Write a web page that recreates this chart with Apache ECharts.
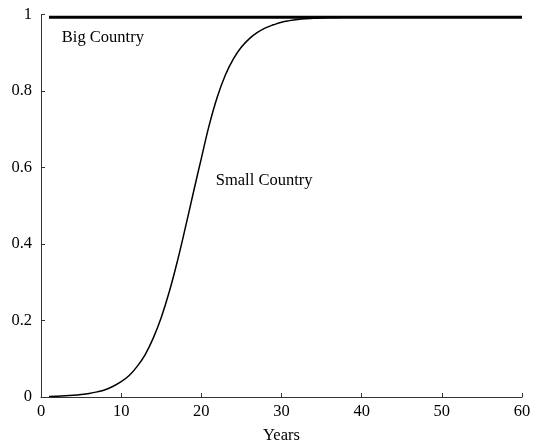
<!DOCTYPE html>
<html><head><meta charset="utf-8">
<script src="https://cdn.jsdelivr.net/npm/echarts@6/dist/echarts.min.js"></script>
<style>html,body{margin:0;padding:0;background:#fff}#c{width:534px;height:445px}</style>
</head><body><div id="c"></div>
<script>
var years = [1,2,3,4,5,6,7,8,9,10,11,12,13,14,15,16,17,18,19,20,21,22,23,24,25,26,27,28,29,30,31,32,33,34,35,36,37,38,39,40,41,42,43,44,45,46,47,48,49,50,51,52,53,54,55,56,57,58,59,60];
var smallCountry = [0.0015,0.0021,0.0031,0.0045,0.0065,0.0093,0.0134,0.019,0.028,0.040,0.056,0.080,0.111,0.154,0.208,0.275,0.354,0.442,0.534,0.624,0.712,0.785,0.842,0.884,0.915,0.937,0.953,0.965,0.973,0.980,0.984,0.987,0.989,0.990,0.991,0.992,0.992,0.993,0.993,0.993,0.993,0.993,0.993,0.993,0.993,0.993,0.993,0.993,0.993,0.993,0.993,0.993,0.993,0.993,0.993,0.993,0.993,0.993,0.993,0.993];
var bigCountry = [0.993,0.993,0.993,0.993,0.993,0.993,0.993,0.993,0.993,0.993,0.993,0.993,0.993,0.993,0.993,0.993,0.993,0.993,0.993,0.993,0.993,0.993,0.993,0.993,0.993,0.993,0.993,0.993,0.993,0.993,0.993,0.993,0.993,0.993,0.993,0.993,0.993,0.993,0.993,0.993,0.993,0.993,0.993,0.993,0.993,0.993,0.993,0.993,0.993,0.993,0.993,0.993,0.993,0.993,0.993,0.993,0.993,0.993,0.993,0.993];
var xTitle = "Years";
var labelBig = {text:"Big Country", x:2.6, y:0.94};
var labelSmall = {text:"Small Country", x:21.8, y:0.565};

var font = "'Liberation Serif', 'Times New Roman', serif";
var fs = 16.5;
var chart = echarts.init(document.getElementById('c'), null, {renderer:'canvas'});
function pairs(xs, ys){ return xs.map(function(x,i){return [x, ys[i]];}); }
chart.setOption({
  animation:false,
  grid:{left:41, right:12, top:14.5, bottom:48, containLabel:false, outerBoundsMode:'none'},
  xAxis:{type:'value', min:0, max:60, interval:10,
    name:xTitle, nameLocation:'middle', nameGap:30,
    nameTextStyle:{color:'#000', fontFamily:font, fontSize:fs},
    axisLine:{lineStyle:{color:'#333', width:1}},
    axisTick:{inside:true, length:4, lineStyle:{color:'#333'}},
    axisLabel:{color:'#000', fontFamily:font, fontSize:fs, margin:6},
    splitLine:{show:false}},
  yAxis:{type:'value', min:0, max:1, interval:0.2,
    axisLine:{show:true, lineStyle:{color:'#333', width:1}},
    axisTick:{show:true, inside:true, length:4, lineStyle:{color:'#333'}},
    axisLabel:{color:'#000', fontFamily:font, fontSize:fs, margin:9},
    splitLine:{show:false}},
  series:[
    {type:'line', data:pairs(years, bigCountry), showSymbol:false, symbol:'none',
     lineStyle:{color:'#000', width:3},
     markPoint:{symbol:'circle', symbolSize:0, silent:true,
       data:[{coord:[labelBig.x, labelBig.y], label:{show:true, formatter:labelBig.text, position:'right', distance:0, color:'#000', fontFamily:font, fontSize:fs}}]}},
    {type:'line', data:pairs(years, smallCountry), showSymbol:false, symbol:'none', smooth:0.4,
     lineStyle:{color:'#000', width:1.5},
     markPoint:{symbol:'circle', symbolSize:0, silent:true,
       data:[{coord:[labelSmall.x, labelSmall.y], label:{show:true, formatter:labelSmall.text, position:'right', distance:0, color:'#000', fontFamily:font, fontSize:fs}}]}}
  ]
});
</script></body></html>
